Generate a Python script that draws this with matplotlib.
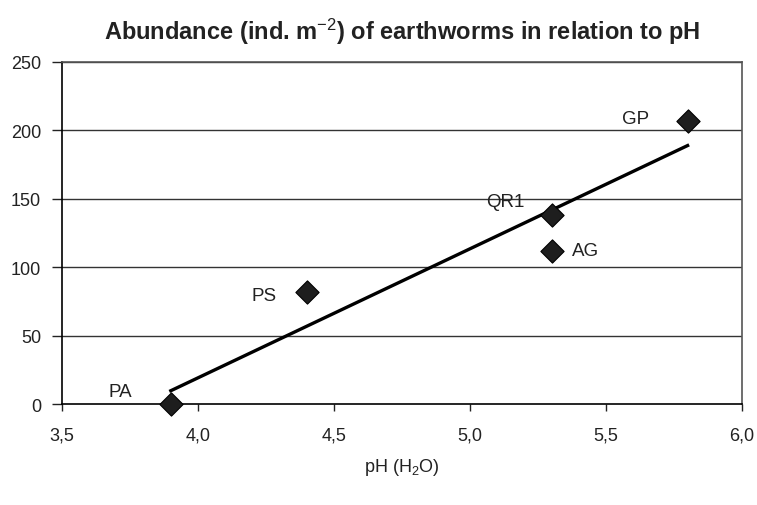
import numpy as np
import matplotlib
matplotlib.use("Agg")
import matplotlib.pyplot as plt

plt.rcParams['font.family'] = ['Liberation Sans', 'DejaVu Sans']
plt.rcParams['mathtext.fontset'] = 'custom'
plt.rcParams['mathtext.rm'] = 'Liberation Sans'
plt.rcParams['mathtext.it'] = 'Liberation Sans:italic'
plt.rcParams['mathtext.bf'] = 'Liberation Sans:bold'

sites = ["PA", "PS", "QR1", "AG", "GP"]
ph = [3.9, 4.4, 5.3, 5.3, 5.8]
abundance = [0, 82, 138, 112, 207]
label_offsets = [(-44.5, 9), (-40, -3), (-47, 10), (15, 0), (-47.5, 1.5)]

xticks = [3.5, 4.0, 4.5, 5.0, 5.5, 6.0]
xticklabels = ["3,5", "4,0", "4,5", "5,0", "5,5", "6,0"]
yticks = [0, 50, 100, 150, 200, 250]

fig = plt.figure(figsize=(7.57, 5.06), dpi=100)
ax = fig.add_axes([62/757, 1 - 405/506, 680/757, 342/506])

ax.set_xlim(3.5, 6.0)
ax.set_ylim(0, 250)

for yv in yticks[1:]:
    ax.axhline(yv, color='#333333', lw=1.0, zorder=1)

slope, intercept = np.polyfit(ph, abundance, 1)
xs = np.array([min(ph), max(ph)])
ax.plot(xs, slope * xs + intercept, color='black', lw=2.4, zorder=2)

ax.scatter(ph, abundance, marker='D', s=140, color='#1e1e1e', edgecolor='black',
           linewidth=0.8, zorder=3, clip_on=False)

for name, x, y, (dx, dy) in zip(sites, ph, abundance, label_offsets):
    ax.annotate(name, (x, y), xytext=(dx, dy), textcoords='offset points',
                fontsize=13.5, ha='left', va='center', color='#222222')

ax.set_xticks(xticks)
ax.set_xticklabels(xticklabels)
ax.set_yticks(yticks)
ax.tick_params(axis='both', labelsize=13, colors='#222222', direction='out')
ax.tick_params(axis='y', length=7, width=1, pad=8)
ax.tick_params(axis='x', length=5, width=1, pad=11)

for side in ['left', 'bottom']:
    ax.spines[side].set_color('black')
    ax.spines[side].set_linewidth(1.2)
for side in ['top', 'right']:
    ax.spines[side].set_color('#555555')
    ax.spines[side].set_linewidth(1.2)

ax.set_xlabel("pH (H$_2$O)", fontsize=13, labelpad=9, color='#222222')
fig.text(402/757, 1 - 32/506, "Abundance (ind. m$^{-2}$) of earthworms in relation to pH",
         ha='center', va='center', fontsize=17, fontweight='bold', color='#222222')

fig.savefig("out.png", dpi=100)
